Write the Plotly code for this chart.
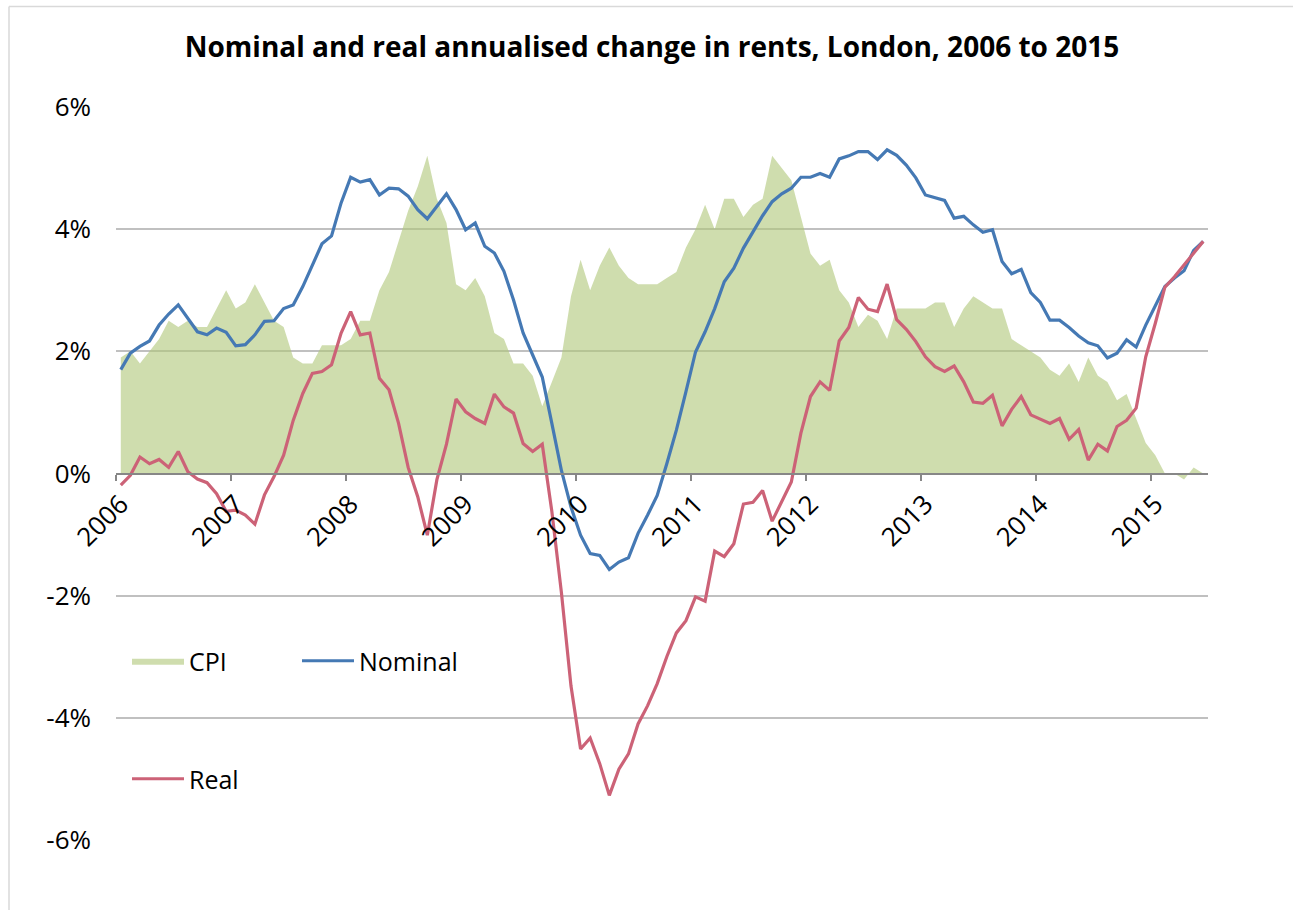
import plotly.graph_objects as go

# Monthly series, January 2006 to June 2015 (annual % change)
years = [str(y) for y in range(2006, 2016)]

cpi = [
    1.9, 2.0, 1.8, 2.0, 2.2, 2.5, 2.4, 2.5, 2.4, 2.4, 2.7, 3.0,
    2.7, 2.8, 3.1, 2.8, 2.5, 2.4, 1.9, 1.8, 1.8, 2.1, 2.1, 2.1,
    2.2, 2.5, 2.5, 3.0, 3.3, 3.8, 4.3, 4.7, 5.2, 4.5, 4.1, 3.1,
    3.0, 3.2, 2.9, 2.3, 2.2, 1.8, 1.8, 1.6, 1.1, 1.5, 1.9, 2.9,
    3.5, 3.0, 3.4, 3.7, 3.4, 3.2, 3.1, 3.1, 3.1, 3.2, 3.3, 3.7,
    4.0, 4.4, 4.0, 4.5, 4.5, 4.2, 4.4, 4.5, 5.2, 5.0, 4.8, 4.2,
    3.6, 3.4, 3.5, 3.0, 2.8, 2.4, 2.6, 2.5, 2.2, 2.7, 2.7, 2.7,
    2.7, 2.8, 2.8, 2.4, 2.7, 2.9, 2.8, 2.7, 2.7, 2.2, 2.1, 2.0,
    1.9, 1.7, 1.6, 1.8, 1.5, 1.9, 1.6, 1.5, 1.2, 1.3, 0.9, 0.5,
    0.3, 0.0, 0.0, -0.1, 0.1, 0.0,
]

nominal = [
    1.70, 1.97, 2.08, 2.17, 2.43, 2.61, 2.76, 2.54, 2.32, 2.27, 2.38, 2.31,
    2.09, 2.11, 2.27, 2.49, 2.50, 2.70, 2.76, 3.06, 3.42, 3.76, 3.89, 4.43,
    4.85, 4.77, 4.81, 4.56, 4.67, 4.66, 4.54, 4.32, 4.17, 4.37, 4.58, 4.32,
    3.99, 4.10, 3.72, 3.61, 3.31, 2.84, 2.30, 1.94, 1.58, 0.82, 0.05, -0.55,
    -1.01, -1.31, -1.34, -1.57, -1.45, -1.38, -0.98, -0.68, -0.36, 0.16, 0.71, 1.34,
    1.99, 2.32, 2.70, 3.14, 3.36, 3.69, 3.96, 4.22, 4.45, 4.58, 4.67, 4.85,
    4.85, 4.91, 4.85, 5.15, 5.20, 5.27, 5.27, 5.14, 5.30, 5.21, 5.05, 4.84,
    4.56, 4.52, 4.47, 4.18, 4.21, 4.07, 3.95, 3.99, 3.47, 3.27, 3.34, 2.96,
    2.80, 2.51, 2.51, 2.39, 2.25, 2.14, 2.09, 1.89, 1.97, 2.19, 2.07, 2.43,
    2.74, 3.06, 3.20, 3.32, 3.65, 3.80,
]

real = [
    -0.19, -0.03, 0.27, 0.16, 0.23, 0.10, 0.36, 0.03, -0.09, -0.15, -0.33, -0.62,
    -0.60, -0.68, -0.83, -0.35, -0.05, 0.30, 0.87, 1.31, 1.64, 1.67, 1.78, 2.30,
    2.65, 2.27, 2.30, 1.56, 1.37, 0.82, 0.10, -0.38, -1.01, -0.10, 0.48, 1.22,
    1.01, 0.90, 0.82, 1.30, 1.09, 0.99, 0.49, 0.36, 0.48, -0.62, -1.95, -3.48,
    -4.51, -4.33, -4.75, -5.27, -4.84, -4.59, -4.10, -3.80, -3.44, -3.00, -2.61, -2.41,
    -2.02, -2.09, -1.27, -1.36, -1.15, -0.50, -0.47, -0.28, -0.78, -0.47, -0.14, 0.66,
    1.26, 1.50, 1.36, 2.17, 2.39, 2.88, 2.69, 2.65, 3.10, 2.52, 2.36, 2.16,
    1.91, 1.75, 1.67, 1.76, 1.50, 1.17, 1.15, 1.28, 0.78, 1.05, 1.26, 0.96,
    0.89, 0.82, 0.90, 0.56, 0.72, 0.22, 0.48, 0.37, 0.77, 0.87, 1.07, 1.91,
    2.46, 3.05, 3.22, 3.42, 3.60, 3.80,
]

y_ticks = [6, 4, 2, 0, -2, -4, -6]
y_tick_text = ["6%", "4%", "2%", "0%", "-2%", "-4%", "-6%"]

n = len(cpi)
# each month sits in the middle of its category slot
x = [i + 0.5 for i in range(n)]
year_starts = [12 * k for k in range(len(years))]

FONT = "Open Sans"

fig = go.Figure()
fig.add_trace(go.Scatter(
    x=x, y=cpi, name="CPI", mode="lines",
    line=dict(width=0, color="rgba(175,198,120,0.6)"),
    fill="tozeroy", fillcolor="rgba(175,198,120,0.6)",
    legend="legend",
))
fig.add_trace(go.Scatter(
    x=x, y=nominal, name="Nominal", mode="lines",
    line=dict(width=3.2, color="#4579b4"),
    legend="legend2",
))
fig.add_trace(go.Scatter(
    x=x, y=real, name="Real", mode="lines",
    line=dict(width=3.2, color="#cc6277"),
    legend="legend3",
))

W, H = 1295, 910
L, R, T, B = 116, 87, 107, 70
pw, ph = W - L - R, H - T - B


def px_x(px):
    return (px - L) / pw


def px_y(py):
    return (H - B - py) / ph


legend_style = dict(
    font=dict(family=FONT, size=25, color="#000"),
    bgcolor="rgba(0,0,0,0)", borderwidth=0,
    xanchor="left", yanchor="middle", itemwidth=52,
)

fig.update_layout(
    width=W, height=H,
    margin=dict(l=L, r=R, t=T, b=B, pad=0),
    paper_bgcolor="white", plot_bgcolor="white",
    title=dict(
        text="<b>Nominal and real annualised change in rents, London, 2006 to 2015</b>",
        x=px_x(652), xanchor="center", xref="paper", y=1 - 47 / H, yanchor="middle",
        yref="container",
        font=dict(family=FONT, size=28, color="#000"),
    ),
    showlegend=True,
    legend=dict(x=px_x(127), y=px_y(661), **legend_style),
    legend2=dict(x=px_x(297), y=px_y(661), **legend_style),
    legend3=dict(x=px_x(127), y=px_y(779), **legend_style),
    xaxis=dict(
        range=[0, n], anchor="free", position=0.5,
        tickmode="array", tickvals=[s + 0.5 for s in year_starts], ticktext=years,
        tickangle=-45, ticks="", showgrid=False, zeroline=False,
        showline=True, linecolor="#878787", linewidth=2, layer="above traces",
        ticklabelstandoff=4,
        tickfont=dict(family=FONT, size=26, color="#000"),
        minor=dict(tickmode="array", tickvals=year_starts, ticks="outside",
                   ticklen=6, tickwidth=2, tickcolor="#878787", showgrid=False),
    ),
    yaxis=dict(
        range=[-6, 6], tickmode="array", tickvals=y_ticks, ticktext=y_tick_text,
        showgrid=True, gridcolor="#c0c0c0", gridwidth=1.5, zeroline=False,
        showline=False, ticks="", ticklabelstandoff=24,
        tickfont=dict(family=FONT, size=26, color="#000"),
    ),
    shapes=[
        dict(type="line", xref="paper", yref="paper",
             x0=px_x(9), x1=px_x(1293), y0=px_y(6.5), y1=px_y(6.5),
             line=dict(color="#d9d9d9", width=1.5)),
        dict(type="line", xref="paper", yref="paper",
             x0=px_x(9), x1=px_x(9), y0=px_y(6.5), y1=px_y(920),
             line=dict(color="#d9d9d9", width=1.5)),
    ],
)

fig.write_html("out.html")
